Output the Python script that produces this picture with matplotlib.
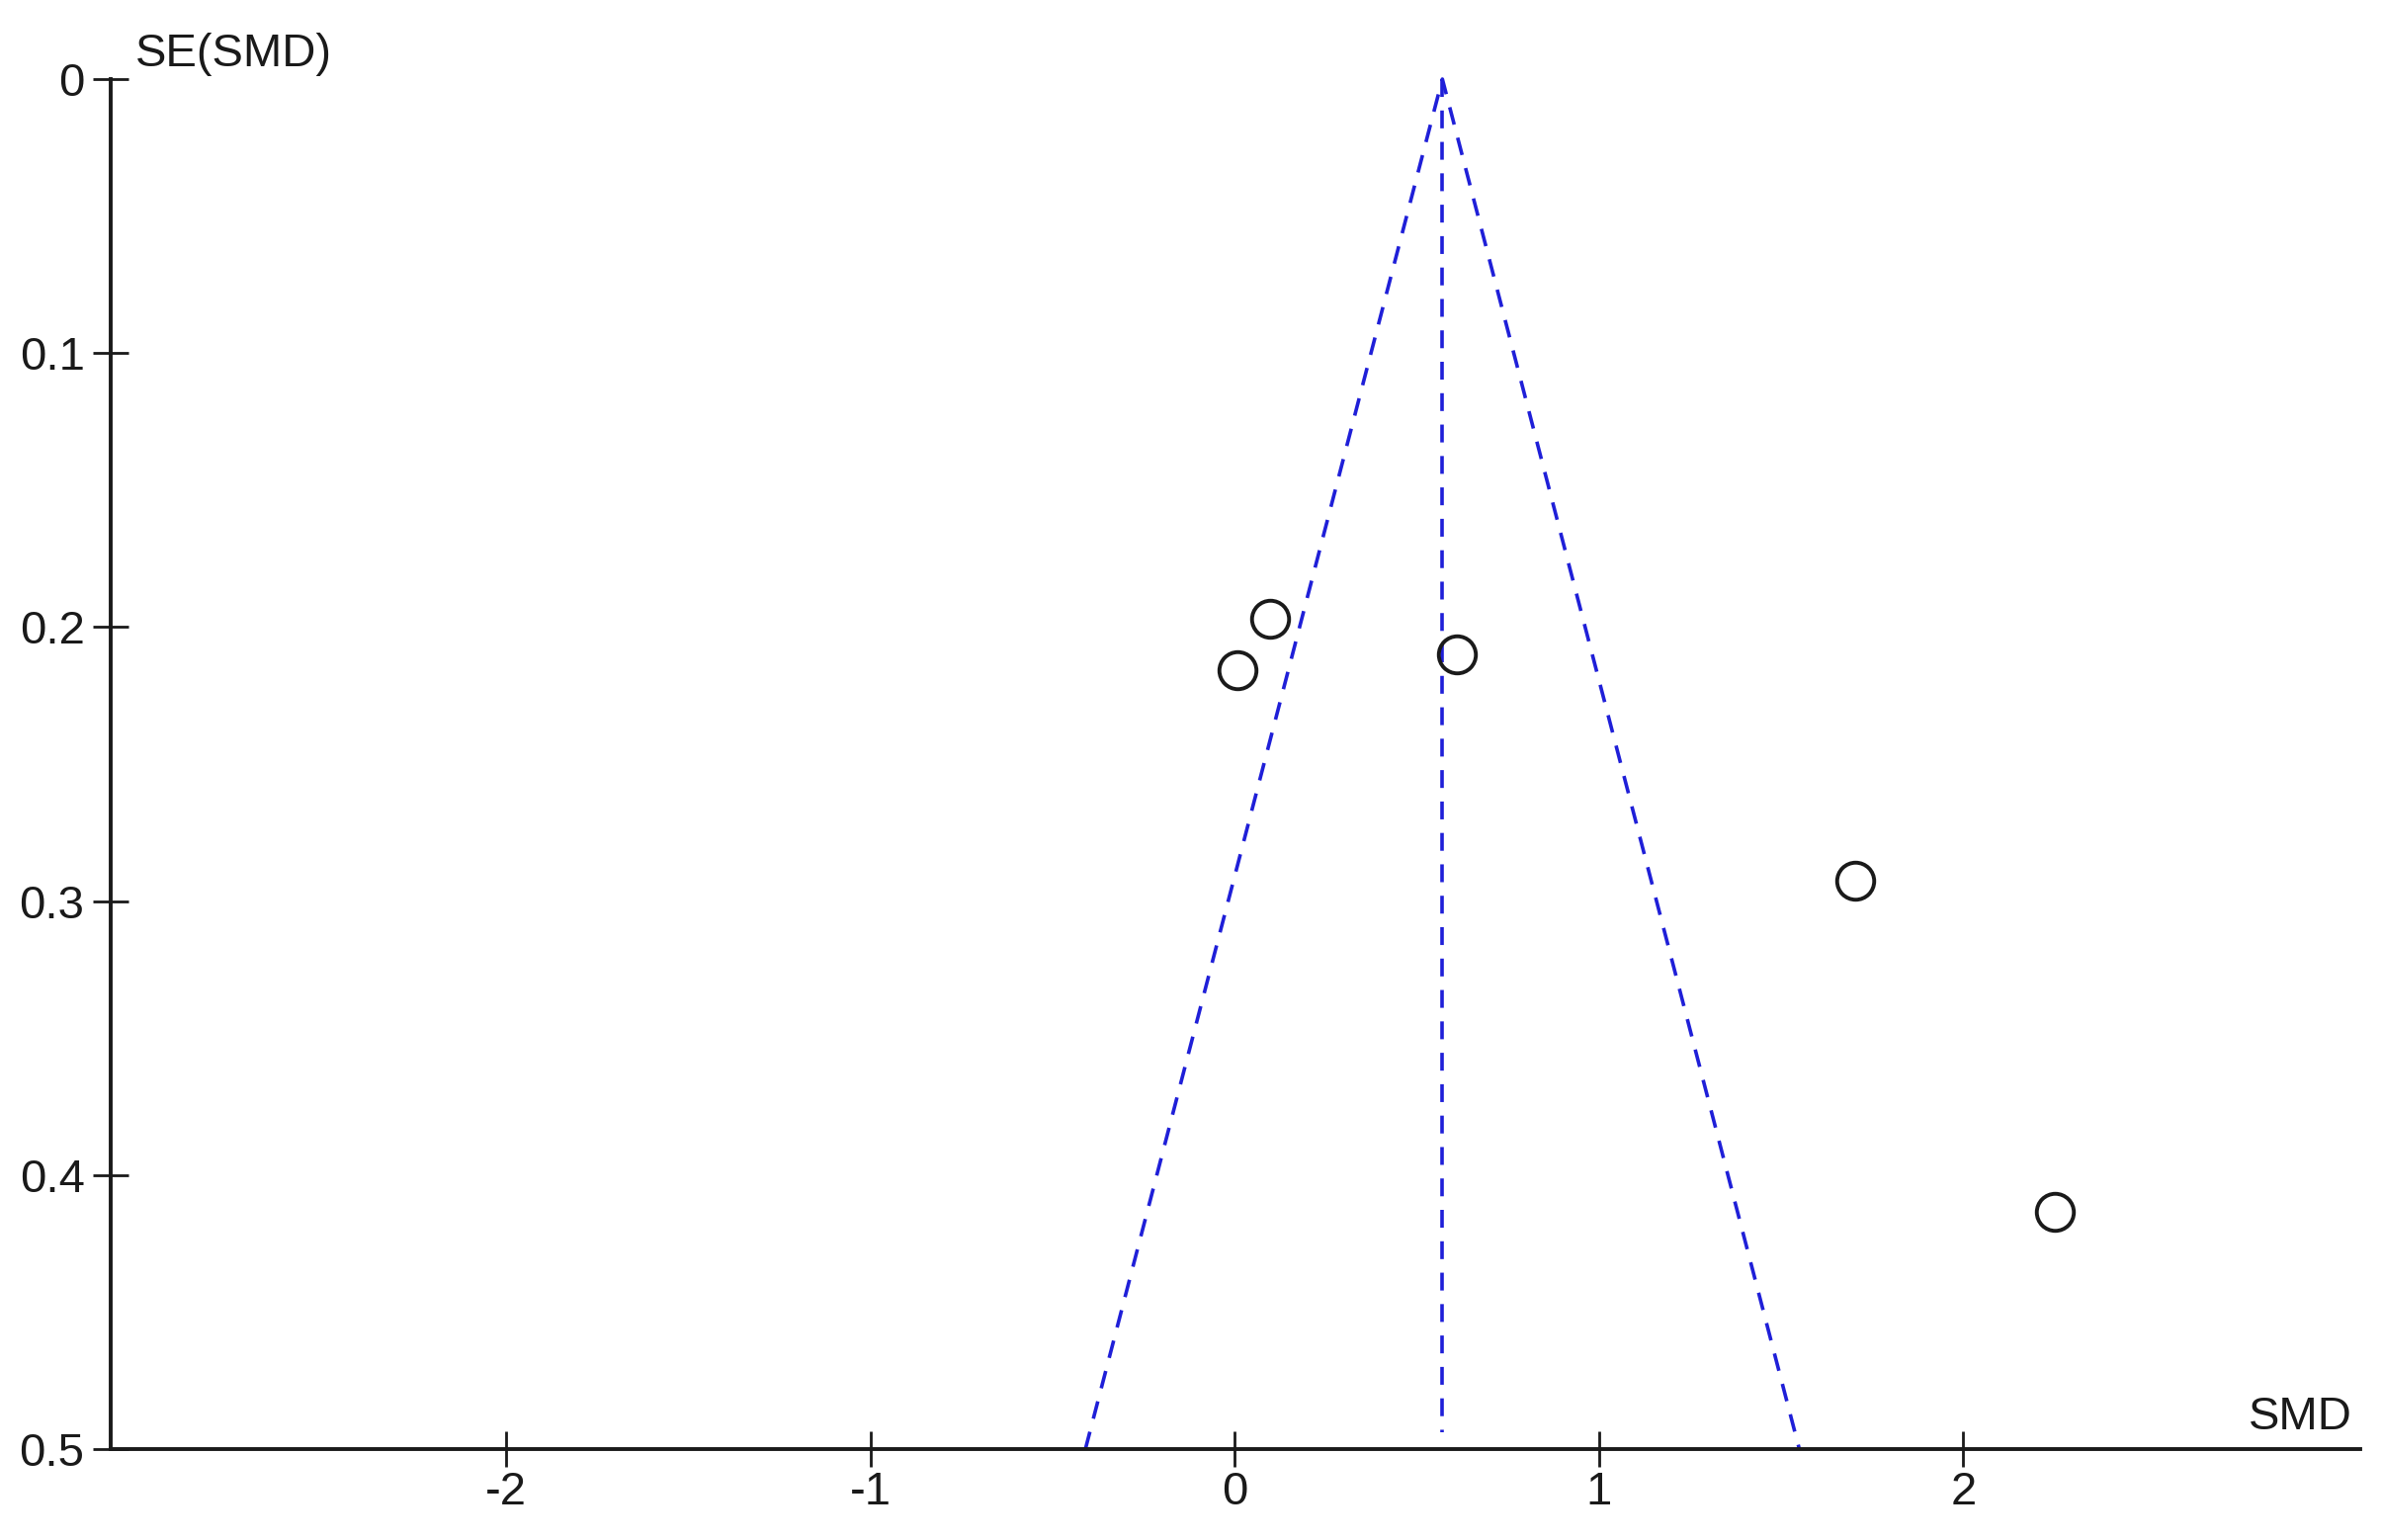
import matplotlib
matplotlib.use("Agg")
import matplotlib.pyplot as plt
import numpy as np

# Data
smd = [0.098, 0.007, 0.611, 1.704, 2.252]
se_smd = [0.197, 0.2156, 0.2098, 0.2925, 0.4134]
pooled_smd = 0.57
se_max = 0.5
x_ticks = [-2, -1, 0, 1, 2]
x_tick_labels = ["-2", "-1", "0", "1", "2"]
y_ticks = [0, 0.1, 0.2, 0.3, 0.4, 0.5]
y_tick_labels = ["0", "0.1", "0.2", "0.3", "0.4", "0.5"]

plt.rcParams['font.family'] = ['Liberation Sans', 'DejaVu Sans']

W, H = 2409, 1558
fig = plt.figure(figsize=(W / 100, H / 100), dpi=100)
left, right, top, bottom = 112, 2388, 80, 1466
ax = fig.add_axes([left / W, 1 - bottom / H, (right - left) / W, (bottom - top) / H])

blue = '#1F1FD8'
dash = (0, (5.0, 3.8))
lw = 2.6
# funnel lines (95% pseudo confidence limits)
ax.plot([pooled_smd - 1.96 * se_max, pooled_smd, pooled_smd + 1.96 * se_max],
        [se_max, 0, se_max], color=blue, lw=lw, linestyle=dash, clip_on=False)
ax.plot([pooled_smd, pooled_smd], [0, se_max - 0.006], color=blue, lw=lw,
        linestyle=dash, clip_on=False)

ax.plot(smd, se_smd, linestyle='none', marker='o', markersize=27,
        markerfacecolor='none', markeredgecolor='#1a1a1a', markeredgewidth=2.8,
        clip_on=False, zorder=3)

ax.set_xlim(-3.086, 3.09)
ax.set_ylim(se_max, 0)

for s in ['top', 'right']:
    ax.spines[s].set_visible(False)
for s in ['left', 'bottom']:
    ax.spines[s].set_linewidth(2.8)
    ax.spines[s].set_color('#1a1a1a')

ax.set_xticks(x_ticks)
ax.set_xticklabels(x_tick_labels)
ax.set_yticks(y_ticks)
ax.set_yticklabels(y_tick_labels)
ax.tick_params(axis='both', direction='inout', length=26, width=2.0,
               colors='#1a1a1a', labelsize=34, labelcolor='#1a1a1a')
ax.tick_params(axis='x', pad=3)
ax.tick_params(axis='y', pad=6)

fig.text(137 / W, 1 - 67 / H, "SE(SMD)", fontsize=34, ha='left', va='baseline',
         color='#1a1a1a')
fig.text(2380 / W, 1 - 1446 / H, "SMD", fontsize=34, ha='right', va='baseline',
         color='#1a1a1a')

fig.savefig("out.png", dpi=100, facecolor='white')
